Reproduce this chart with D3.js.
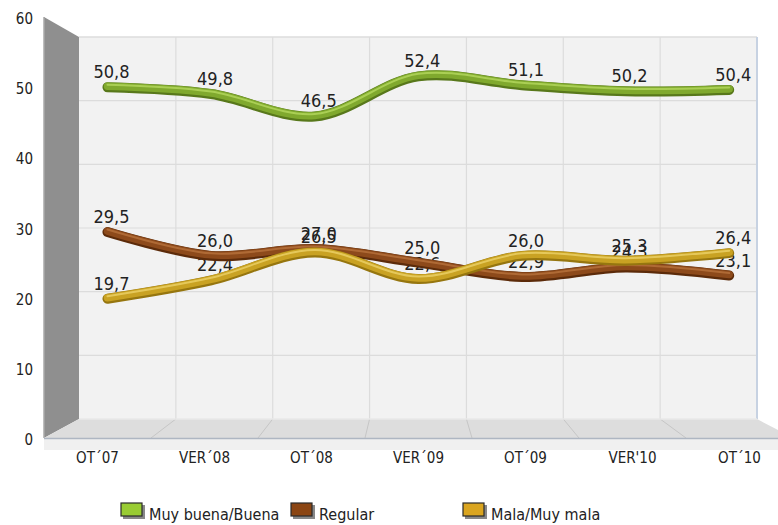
<!DOCTYPE html>
<html lang="es">
<head>
<meta charset="UTF-8">
<title>Valoración</title>
<script src="https://d3js.org/d3.v7.min.js"></script>
<style>
    body { margin: 0; background: #fff; }
    text { font-family: "DejaVu Sans Condensed", "DejaVu Sans", sans-serif; fill: #222; }
</style>
</head>
<body>
<svg width="778" height="525"></svg>
<script>
    // data
    var categories = ["OT\u00b407", "VER\u00b408", "OT\u00b408", "VER\u00b409", "OT\u00b409", "VER'10", "OT\u00b410"];
    var buena = [50.8, 49.8, 46.5, 52.4, 51.1, 50.2, 50.4];
    var regular = [29.5, 26.0, 27.0, 25.0, 22.9, 24.3, 23.1];
    var mala = [19.7, 22.4, 26.5, 22.6, 26.0, 25.3, 26.4];
    var yTicks = [0, 10, 20, 30, 40, 50, 60];
    var seriesNames = ["Muy buena/Buena", "Regular", "Mala/Muy mala"];

    var series = [
        { name: seriesNames[0], values: buena, fill: "#99cc33", main: "#80a92e", light: "#b4d85e", dark: "#58781b" },
        { name: seriesNames[1], values: regular, fill: "#8b4513", main: "#8d4a1b", light: "#b8723c", dark: "#5c2b0a" },
        { name: seriesNames[2], values: mala, fill: "#daa520", main: "#c9a223", light: "#ecd268", dark: "#96760f" }
    ];

    var svg = d3.select("svg");

    // scales for a plane at depth d (0 = front, 1 = back wall)
    function lerp(a, b, t) { return a + (b - a) * t; }
    function plane(d) {
        return {
            x: d3.scaleBand().domain(categories).range([lerp(44, 79, d), lerp(793, 757, d)]),
            y: d3.scaleLinear().domain([0, 60]).range([lerp(438, 419, d), lerp(17, 37, d)])
        };
    }
    var front = plane(0), back = plane(1), mid = plane(1 / 3);

    var bx0 = back.x.range()[0], bx1 = back.x.range()[1];
    var fx0 = front.x.range()[0], fx1 = front.x.range()[1];

    // back wall
    svg.append("rect")
        .attr("x", bx0).attr("y", back.y(60))
        .attr("width", bx1 - bx0).attr("height", back.y(0) - back.y(60))
        .attr("fill", "#f2f2f2");

    svg.append("g").selectAll("line")
        .data(yTicks.slice(1, -1))
        .enter().append("line")
        .attr("x1", bx0).attr("x2", bx1)
        .attr("y1", function (d) { return back.y(d); })
        .attr("y2", function (d) { return back.y(d); })
        .attr("stroke", "#dcdcdc").attr("stroke-width", 1.2);

    svg.append("g").selectAll("line")
        .data(categories.slice(1))
        .enter().append("line")
        .attr("x1", function (d) { return back.x(d); })
        .attr("x2", function (d) { return back.x(d); })
        .attr("y1", back.y(60)).attr("y2", back.y(0))
        .attr("stroke", "#dcdcdc").attr("stroke-width", 1.2);

    svg.append("line")
        .attr("x1", bx0).attr("x2", bx1)
        .attr("y1", back.y(60)).attr("y2", back.y(60))
        .attr("stroke", "#dcdcdc").attr("stroke-width", 1.5);

    svg.append("line")
        .attr("x1", bx1).attr("x2", bx1)
        .attr("y1", back.y(60)).attr("y2", back.y(0))
        .attr("stroke", "#c7d2e2").attr("stroke-width", 2);

    // left wall
    svg.append("polygon")
        .attr("points", [[fx0, front.y(60)], [bx0, back.y(60)], [bx0, back.y(0)], [fx0, front.y(0)]].join(" "))
        .attr("fill", "#8f8f8f");
    svg.append("line")
        .attr("x1", fx0).attr("x2", fx0)
        .attr("y1", front.y(60)).attr("y2", front.y(0))
        .attr("stroke", "#a8a8a8").attr("stroke-width", 1.5);

    // floor
    svg.append("rect")
        .attr("x", fx0).attr("y", front.y(0))
        .attr("width", fx1 - fx0).attr("height", 12)
        .attr("fill", "#f0f0f0");
    svg.append("polygon")
        .attr("points", [[fx0, front.y(0)], [bx0, back.y(0)], [bx1, back.y(0)], [fx1, front.y(0)]].join(" "))
        .attr("fill", "#dddddd");
    svg.append("g").selectAll("line")
        .data(categories.slice(1))
        .enter().append("line")
        .attr("x1", function (d) { return back.x(d); })
        .attr("y1", back.y(0))
        .attr("x2", function (d) { return front.x(d); })
        .attr("y2", front.y(0))
        .attr("stroke", "#c6c6c6").attr("stroke-width", 1);
    svg.append("line")
        .attr("x1", bx0).attr("x2", bx1)
        .attr("y1", back.y(0)).attr("y2", back.y(0))
        .attr("stroke", "#e8e8e8").attr("stroke-width", 1.5);
    svg.append("line")
        .attr("x1", fx0).attr("x2", fx1)
        .attr("y1", front.y(0) + 0.5).attr("y2", front.y(0) + 0.5)
        .attr("stroke", "#aeb6c2").attr("stroke-width", 1.5);

    // y axis labels
    svg.append("g").selectAll("text")
        .data(yTicks)
        .enter().append("text")
        .attr("x", 33)
        .attr("y", function (d) { return front.y(d) + 7; })
        .attr("text-anchor", "end")
        .style("font-size", "15px")
        .text(function (d) { return d; });

    // x axis labels
    svg.append("g").selectAll("text")
        .data(categories)
        .enter().append("text")
        .attr("x", function (d) { return front.x(d) + front.x.bandwidth() / 2; })
        .attr("y", 463)
        .attr("text-anchor", "middle")
        .style("font-size", "15px")
        .text(function (d) { return d; });

    // lines on the mid plane
    var cx = function (i) { return mid.x(categories[i]) + mid.x.bandwidth() / 2; };
    var line = d3.line()
        .x(function (d, i) { return cx(i); })
        .y(function (d) { return mid.y(d); })
        .curve(d3.curveCatmullRom.alpha(0.5));

    var fmt = function (v) { return v.toFixed(1).replace(".", ","); };

    // value labels (they overlap in the original too)
    series.forEach(function (s) {
        svg.append("g").selectAll("text")
            .data(s.values)
            .enter().append("text")
            .attr("x", function (d, i) { return cx(i) + 4; })
            .attr("y", function (d) { return mid.y(d) - 8; })
            .attr("text-anchor", "middle")
            .style("font-size", "18px")
            .text(fmt);
    });

    series.forEach(function (s) {
        var g = svg.append("g");
        g.append("path").attr("d", line(s.values))
            .attr("transform", "translate(0,1)")
            .attr("fill", "none").attr("stroke", s.dark)
            .attr("stroke-width", 10).attr("stroke-linecap", "round");
        g.append("path").attr("d", line(s.values))
            .attr("fill", "none").attr("stroke", s.main)
            .attr("stroke-width", 7.5).attr("stroke-linecap", "round");
        g.append("path").attr("d", line(s.values))
            .attr("transform", "translate(0,-1.5)")
            .attr("fill", "none").attr("stroke", s.light)
            .attr("stroke-width", 2).attr("stroke-linecap", "round")
            .attr("opacity", 0.8);
    });

    // legend
    var legendX = [121, 291, 463];
    var legend = svg.append("g").selectAll("g")
        .data(series)
        .enter().append("g")
        .attr("transform", function (d, i) { return "translate(" + legendX[i] + ",503)"; });
    legend.append("rect")
        .attr("x", 2).attr("y", 2).attr("width", 22).attr("height", 14)
        .attr("fill", "#888");
    legend.append("rect")
        .attr("width", 21).attr("height", 13)
        .attr("fill", function (d) { return d.fill; })
        .attr("stroke", "#2a2a2a").attr("stroke-width", 1.2);
    legend.append("text")
        .attr("x", 28).attr("y", 17)
        .style("font-size", "16px")
        .text(function (d) { return d.name; });
</script>
</body>
</html>
